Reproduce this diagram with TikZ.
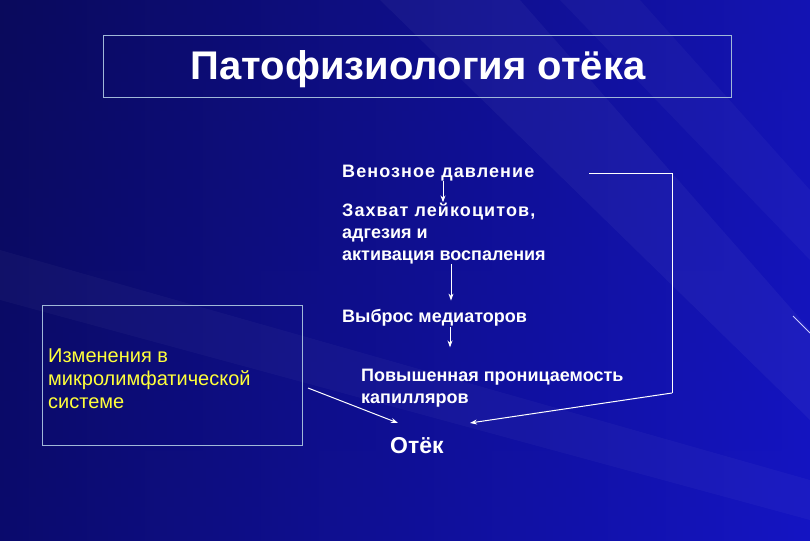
\documentclass[tikz,border=0pt]{standalone}
\usepackage{fontspec}
\setmainfont{Liberation Sans}
\usetikzlibrary{calc,arrows.meta}

\definecolor{bgdark}{HTML}{0A0A5C}
\definecolor{bgmid}{HTML}{0D0D94}
\definecolor{bgblue}{HTML}{1818D8}
\definecolor{framecol}{HTML}{A0B8D8}
\definecolor{txtyellow}{HTML}{FFFF3A}

\tikzset{
  frame/.style={draw=framecol, line width=0.8pt},
  lbl/.style={text=white, font=\fontsize{18}{22}\selectfont\bfseries, align=left, inner sep=0pt, anchor=base west},
  arr/.style={white, line width=1pt, -{Stealth[length=7pt,width=5pt]}},
}
\newcommand{\spaced}{\addfontfeatures{LetterSpace=6}}

\begin{document}
\begin{tikzpicture}[x=1pt,y=-1pt]
  \useasboundingbox (0,0) rectangle (810,540);
  % background
  \shade[top color=bgdark, bottom color=bgmid] (0,0) rectangle (810,540);
  \shade[left color=bgdark, right color=bgblue, opacity=0.7] (0,0) rectangle (810,540);
  \fill[white, opacity=0.04] (380,0) -- (520,0) -- (810,330) -- (810,420) -- cycle;
  \fill[white, opacity=0.03] (560,0) -- (640,0) -- (810,190) -- (810,260) -- cycle;
  \fill[white, opacity=0.03] (0,250) -- (0,300) -- (810,520) -- (810,480) -- cycle;
  \draw[white!80!blue, line width=1pt] (793,316) -- (810,333);

  % title
  \draw[frame] (103,35) rectangle (731,97);
  \node[text=white, font=\fontsize{40}{44}\selectfont\bfseries, inner sep=0pt, anchor=base] (title) at (418,80) {Патофизиология отёка};

  % chain
  \node[lbl] (ven) at (342,177) {\spaced Венозное давление};
  \node[lbl] (zah) at (342,260) {{\spaced Захват лейкоцитов,}\\адгезия и\\активация воспаления};
  \node[lbl] (vyb) at (342,322) {Выброс медиаторов};
  \node[lbl] (pov) at (361,403) {Повышенная проницаемость\\капилляров};
  \node[text=white, font=\fontsize{23}{26}\selectfont\bfseries, inner sep=0pt, anchor=base west] (otek) at (390,453) {Отёк};

  % left box
  \draw[frame] (42,305) rectangle (302,445);
  \node[text=txtyellow, font=\fontsize{20}{23}\selectfont, align=left, inner sep=0pt, anchor=base west] (lymph) at (48,408) {Изменения в\\микролимфатической\\системе};

  % arrows
  \draw[arr] ($(ven.base west)+(101,4)$) -- ($(zah.north west)+(101,0)$);
  \draw[arr] ($(zah.south west)+(109,0)$) -- ($(vyb.north west)+(109,-8)$);
  \draw[arr] ($(vyb.base west)+(108,5)$) -- ($(pov.north west)+(89,-21)$);
  \coordinate (fbA) at (589,173);
  \coordinate (fbB) at (672,173);
  \coordinate (fbC) at (672,393);
  \coordinate (tipR) at (470,423);
  \coordinate (tailL) at (308,388);
  \coordinate (tipL) at (398,423);
  \draw[white, line width=1pt] (fbA) -- (fbB) -- (fbC);
  \draw[arr] (fbC) -- (tipR);
  \draw[arr] (tailL) -- (tipL);
\end{tikzpicture}
\end{document}
